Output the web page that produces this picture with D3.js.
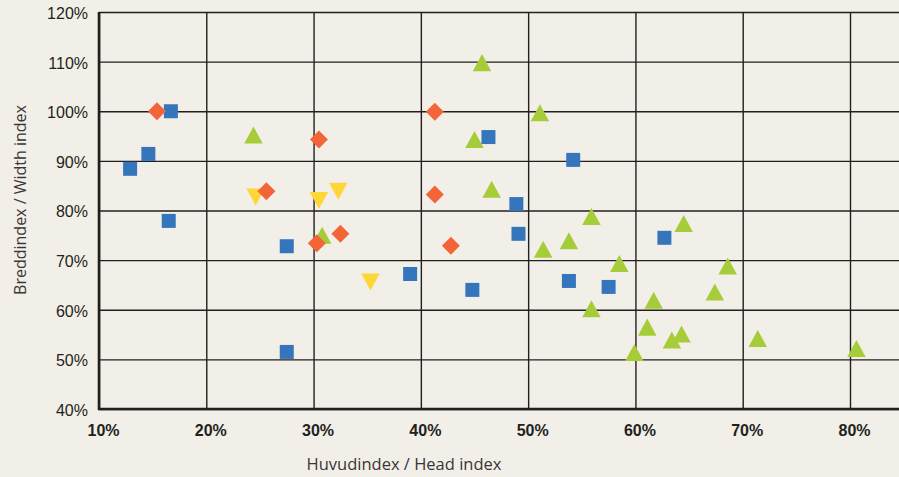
<!DOCTYPE html>
<html>
<head>
<meta charset="utf-8">
<script src="https://cdn.jsdelivr.net/npm/d3@7"></script>
<style>
  html, body { margin: 0; padding: 0; background: #f2efe8; }
  svg { display: block; font-family: "Open Sans", "DejaVu Sans", sans-serif; }
</style>
</head>
<body>
<script>
// Huvudindex (x) and Breddindex (y), one pair of arrays per marker series
let squareHead  = [0.167, 0.146, 0.129, 0.165, 0.275, 0.275, 0.390, 0.448, 0.463, 0.542, 0.489, 0.491, 0.538, 0.575, 0.627]
let squareWidth = [1.000, 0.914, 0.884, 0.779, 0.728, 0.515, 0.672, 0.640, 0.948, 0.902, 0.813, 0.753, 0.658, 0.646, 0.745]

let diamondHead  = [0.154, 0.305, 0.256, 0.303, 0.325, 0.413, 0.413, 0.428]
let diamondWidth = [1.000, 0.943, 0.839, 0.734, 0.753, 0.999, 0.832, 0.729]

let downHead  = [0.246, 0.305, 0.323, 0.353]
let downWidth = [0.827, 0.820, 0.839, 0.656]

let upHead  = [0.244, 0.308, 0.457, 0.511, 0.450, 0.466, 0.559, 0.538, 0.514, 0.585, 0.559, 0.617, 0.611, 0.599, 0.634, 0.643, 0.714, 0.806, 0.645, 0.686, 0.674]
let upWidth = [0.952, 0.750, 1.098, 0.997, 0.943, 0.843, 0.788, 0.739, 0.722, 0.693, 0.602, 0.619, 0.565, 0.514, 0.539, 0.551, 0.542, 0.522, 0.774, 0.688, 0.636]

let xTicks = [0.1, 0.2, 0.3, 0.4, 0.5, 0.6, 0.7, 0.8]
let yTicks = [0.4, 0.5, 0.6, 0.7, 0.8, 0.9, 1.0, 1.1, 1.2]
let xTitle = "Huvudindex / Head index"
let yTitle = "Breddindex / Width index"

let w = 899, h = 477
let plotLeft = 99, plotTop = 12, plotBottom = 409, plotRight = w
let ink = "#231f20"

let svg = d3.select("body").append("svg")
    .attr("width", w)
    .attr("height", h)

let xScale = d3.scaleLinear().domain([0.1, 0.8]).range([plotLeft, 850])
let yScale = d3.scaleLinear().domain([0.4, 1.2]).range([plotBottom, plotTop])

let pct = d => Math.round(d * 100) + "%"

// y grid + labels
let yAxis = d3.axisLeft(yScale)
    .tickValues(yTicks)
    .tickFormat(pct)
    .tickSize(-(plotRight - plotLeft))
    .tickPadding(11)
let gy = svg.append("g")
    .attr("transform", "translate(" + plotLeft + ",0)")
    .call(yAxis)
gy.select(".domain").remove()
gy.selectAll("line").attr("stroke", ink).attr("stroke-width", 1.4)
gy.selectAll("text")
    .attr("fill", ink)
    .style("font-size", "16px")
    .attr("dy", "0.4em")

// x grid + labels
let xAxis = d3.axisBottom(xScale)
    .tickValues(xTicks)
    .tickFormat(pct)
    .tickSize(-(plotBottom - plotTop))
    .tickPadding(16)
let gx = svg.append("g")
    .attr("transform", "translate(0," + plotBottom + ")")
    .call(xAxis)
gx.select(".domain").remove()
gx.selectAll("line").attr("stroke", ink).attr("stroke-width", 1.4)
gx.selectAll("text")
    .attr("fill", ink)
    .attr("dx", 4)
    .style("font-size", "16px")
    .style("font-weight", 600)

// axis lines
svg.append("line")
    .attr("x1", plotLeft).attr("x2", plotLeft)
    .attr("y1", plotTop).attr("y2", plotBottom + 1)
    .attr("stroke", ink).attr("stroke-width", 2.6)
svg.append("line")
    .attr("x1", plotLeft - 1).attr("x2", plotRight)
    .attr("y1", plotBottom).attr("y2", plotBottom)
    .attr("stroke", ink).attr("stroke-width", 2.6)

// titles
svg.append("text")
    .attr("x", 404).attr("y", 470)
    .attr("text-anchor", "middle")
    .attr("fill", "#3a3536")
    .style("font-size", "16.5px")
    .text(xTitle)
svg.append("text")
    .attr("transform", "translate(26,200) rotate(-90)")
    .attr("text-anchor", "middle")
    .attr("fill", "#3a3536")
    .style("font-size", "16px")
    .text(yTitle)

// marker shapes
let squareType = { draw: (c, s) => { let r = s / 2; c.rect(-r, -r, s, s) } }
let diamondType = { draw: (c, s) => { let r = s / 2; c.moveTo(0, -r); c.lineTo(r, 0); c.lineTo(0, r); c.lineTo(-r, 0); c.closePath() } }
let upType = { draw: (c, s) => { let r = s / 2, hh = s * 0.46; c.moveTo(0, -hh); c.lineTo(r, hh); c.lineTo(-r, hh); c.closePath() } }
let downType = { draw: (c, s) => { let r = s / 2, hh = s * 0.46; c.moveTo(0, hh); c.lineTo(r, -hh); c.lineTo(-r, -hh); c.closePath() } }

let series = [
    { head: upHead, width: upWidth, type: upType, size: 18.5, color: "#a6cd39" },
    { head: downHead, width: downWidth, type: downType, size: 18.5, color: "#fed637" },
    { head: squareHead, width: squareWidth, type: squareType, size: 14, color: "#3575bc" },
    { head: diamondHead, width: diamondWidth, type: diamondType, size: 18, color: "#f26539" }
]

series.forEach(s => {
    let pts = s.head.map((d, i) => [d, s.width[i]])
    svg.append("g")
        .selectAll("path")
        .data(pts)
        .enter()
        .append("path")
        .attr("transform", d => "translate(" + xScale(d[0]) + "," + yScale(d[1]) + ")")
        .attr("d", d3.symbol().type(s.type).size(s.size))
        .attr("fill", s.color)
})
</script>
</body>
</html>
